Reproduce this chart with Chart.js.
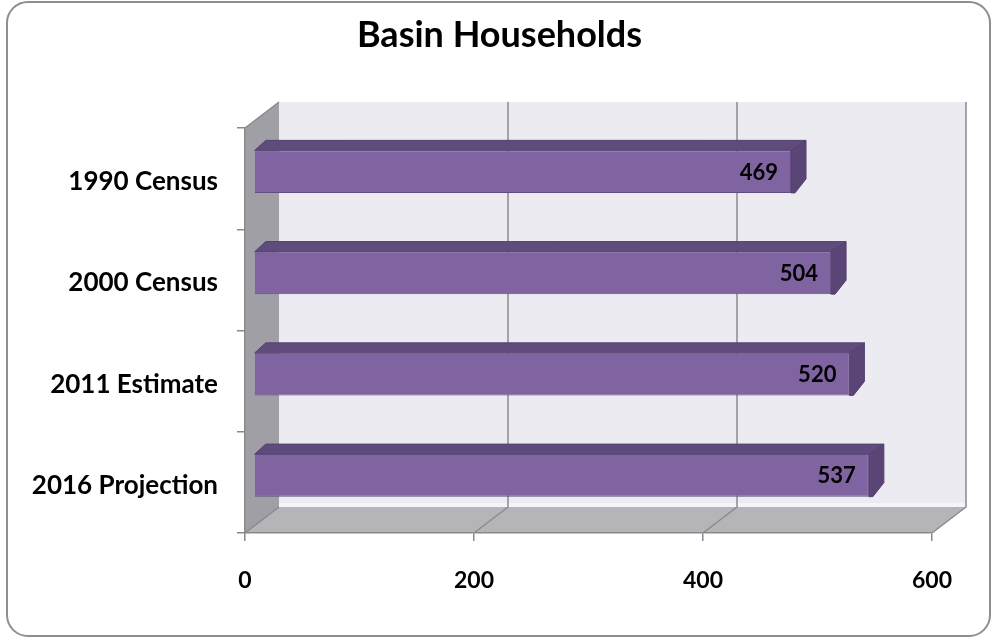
<!DOCTYPE html>
<html>
<head>
<meta charset="utf-8">
<script src="https://cdn.jsdelivr.net/npm/chart.js@4/dist/chart.umd.min.js"></script>
<style>
  html, body { margin: 0; padding: 0; background: #fff; }
  #wrap { position: relative; width: 999px; height: 643px; }
  #frame {
    position: absolute; left: 6px; top: 1px; width: 985px; height: 636px;
    border: 2px solid #8e8e8e; border-radius: 22px; box-sizing: border-box;
  }
  #chart { position: absolute; left: 0; top: 0; }
</style>
</head>
<body>
<div id="wrap">
  <div id="frame"></div>
  <canvas id="chart" width="999" height="643"></canvas>
</div>
<script>
const categories = ['1990 Census', '2000 Census', '2011 Estimate', '2016 Projection'];
const households = [469, 504, 520, 537];
const xTicks = [0, 200, 400, 600];
const chartTitle = 'Basin Households';

// depth of the walls and the offset of the bars inside that depth
const WALL_DX = 34, WALL_DY = 26;
const BAR_DX = 9, BAR_DY = -7;
const BAR_DEPTH_L = 11, BAR_DEPTH_R = 15, BAR_DEPTH_Y = 10;

const FONT = 'Lato, "Open Sans", sans-serif';

const box3d = {
    id: 'box3d',
    beforeDraw(chart) {
        const { ctx, chartArea: a, scales: { x } } = chart;
        const L = a.left, R = a.right, T = a.top, B = a.bottom;
        ctx.save();

        // title, centred on the whole canvas
        ctx.font = 'bold 36px ' + FONT;
        ctx.fillStyle = '#000';
        ctx.textAlign = 'center';
        ctx.textBaseline = 'alphabetic';
        ctx.fillText(chartTitle, chart.width / 2, 47);

        // back wall
        ctx.fillStyle = '#edebf2';
        ctx.fillRect(L + WALL_DX, T - WALL_DY, R - L, B - T);
        ctx.fillStyle = '#f5f4f9';
        ctx.fillRect(L + WALL_DX, B - WALL_DY - 4, R - L, 4);

        // floor
        ctx.fillStyle = '#b5b4b9';
        ctx.beginPath();
        ctx.moveTo(L, B);
        ctx.lineTo(L + WALL_DX, B - WALL_DY);
        ctx.lineTo(R + WALL_DX, B - WALL_DY);
        ctx.lineTo(R, B);
        ctx.closePath();
        ctx.fill();

        // side wall
        ctx.fillStyle = '#a09fa5';
        ctx.beginPath();
        ctx.moveTo(L, T);
        ctx.lineTo(L + WALL_DX, T - WALL_DY);
        ctx.lineTo(L + WALL_DX, B - WALL_DY);
        ctx.lineTo(L, B);
        ctx.closePath();
        ctx.fill();

        // grid lines on the back wall and across the floor
        ctx.strokeStyle = '#8a8a8c';
        ctx.lineWidth = 1.5;
        xTicks.forEach(v => {
            const px = x.getPixelForValue(v);
            ctx.beginPath();
            ctx.moveTo(px, B);
            ctx.lineTo(px + WALL_DX, B - WALL_DY);
            if (v > 0) ctx.lineTo(px + WALL_DX, T - WALL_DY);
            ctx.stroke();
        });
        ctx.beginPath();
        ctx.moveTo(L, T);
        ctx.lineTo(L + WALL_DX, T - WALL_DY);
        ctx.stroke();

        ctx.restore();
    },
    beforeDatasetsDraw(chart) {
        const { ctx } = chart;
        ctx.save();
        ctx.translate(BAR_DX, BAR_DY);
        chart.getDatasetMeta(0).data.forEach(bar => {
            const { x, y, base, height } = bar.getProps(['x', 'y', 'base', 'height'], true);
            const top = y - height / 2, bottom = y + height / 2;
            ctx.lineWidth = 1;
            ctx.strokeStyle = '#54416f';
            // top face
            ctx.fillStyle = '#604b7d';
            ctx.beginPath();
            ctx.moveTo(base, top);
            ctx.lineTo(base + BAR_DEPTH_L, top - BAR_DEPTH_Y);
            ctx.lineTo(x + BAR_DEPTH_R, top - BAR_DEPTH_Y);
            ctx.lineTo(x, top);
            ctx.closePath();
            ctx.fill();
            ctx.stroke();
            // end face
            ctx.fillStyle = '#5a4576';
            ctx.beginPath();
            ctx.moveTo(x, top);
            ctx.lineTo(x + BAR_DEPTH_R, top - BAR_DEPTH_Y);
            ctx.lineTo(x + BAR_DEPTH_R, bottom - BAR_DEPTH_Y - 4);
            ctx.lineTo(x + 4, bottom);
            ctx.lineTo(x, bottom);
            ctx.closePath();
            ctx.fill();
            ctx.stroke();
        });
    },
    afterDatasetsDraw(chart) {
        const { ctx } = chart;
        ctx.restore();
        ctx.save();
        ctx.font = 'bold 22px ' + FONT;
        ctx.fillStyle = '#000';
        ctx.textAlign = 'right';
        ctx.textBaseline = 'middle';
        chart.getDatasetMeta(0).data.forEach((bar, i) => {
            ctx.fillText(String(households[i]), bar.x + BAR_DX - 13, bar.y + BAR_DY + 1);
        });
        ctx.restore();
    }
};

new Chart(document.getElementById('chart'), {
    type: 'bar',
    data: {
        labels: categories,
        datasets: [{
            data: households,
            backgroundColor: '#8064a2',
            borderColor: '#604c7e',
            borderWidth: 1,
            categoryPercentage: 1,
            barPercentage: 0.42,
        }]
    },
    options: {
        indexAxis: 'y',
        responsive: false,
        animation: false,
        devicePixelRatio: 1,
        layout: { padding: { left: 0, right: 67, top: 128, bottom: 0 } },
        scales: {
            x: {
                min: 0,
                max: 600,
                afterBuildTicks: s => { s.ticks = xTicks.map(v => ({ value: v })); },
                afterFit: s => { s.height = 110; },
                grid: { drawOnChartArea: false, drawTicks: true, tickLength: 8, color: '#8a8a8c', lineWidth: 1.5 },
                border: { display: true, color: '#8a8a8c', width: 1.5 },
                ticks: { color: '#000', padding: 26, font: { family: FONT, size: 23, weight: 'bold' } }
            },
            y: {
                afterFit: s => { s.width = 245; },
                grid: { drawOnChartArea: false, drawTicks: true, tickLength: 8, color: '#8a8a8c', lineWidth: 1.5 },
                border: { display: true, color: '#8a8a8c', width: 1.5 },
                ticks: { color: '#000', padding: 19, labelOffset: 3, font: { family: FONT, size: 26, weight: 'bold' } }
            }
        },
        plugins: {
            legend: { display: false },
            tooltip: { enabled: false },
            title: { display: false }
        }
    },
    plugins: [box3d]
});
</script>
</body>
</html>
